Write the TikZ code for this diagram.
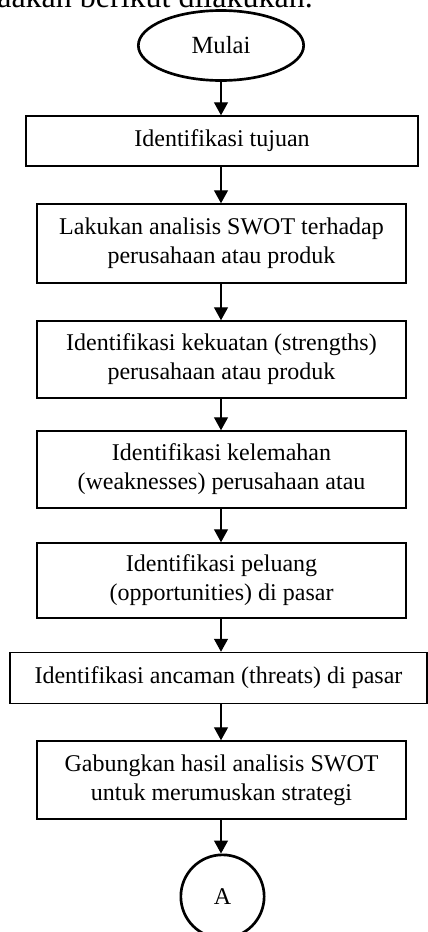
\documentclass[tikz,border=0pt]{standalone}
\usepackage{fontspec}
\setmainfont{Liberation Serif}
\usetikzlibrary{arrows.meta,shapes.geometric}
\begin{document}
\begin{tikzpicture}[x=0.75pt,y=-0.75pt,
  box/.style={draw,line width=1.1pt,align=center,font=\fontsize{18}{21.75}\selectfont,inner sep=0pt},
  term/.style={draw,ellipse,line width=2pt,font=\fontsize{18.5}{22}\selectfont,minimum width=124pt,minimum height=52.5pt,inner sep=0pt},
  conn/.style={draw,circle,line width=2pt,font=\fontsize{18}{22}\selectfont,minimum size=62.5pt,inner sep=0pt},
  flow/.style={line width=1pt,-{Triangle[width=10.5pt,length=9.75pt]}}]
\clip (0,0) rectangle (428,932);
\node[anchor=base east,font=\fontsize{24}{28}\selectfont,inner sep=0pt] (intro) at (313,7) {aakan berikut dilakukan.};
\node[term] (start) at (221,45.5) {Mulai};
\node[box,minimum width=294pt,minimum height=37.5pt] (b1) at (222,141) {Identifikasi tujuan};
\node[box,minimum width=276.75pt,minimum height=59.25pt] (b2) at (221.5,243.5) {Lakukan analisis SWOT terhadap\\perusahaan atau produk};
\node[box,minimum width=276.75pt,minimum height=57.75pt] (b3) at (221.5,359.5) {Identifikasi kekuatan (strengths)\\perusahaan atau produk};
\node[box,minimum width=276.75pt,minimum height=57.75pt] (b4) at (221.5,469.5) {Identifikasi kelemahan\\(weaknesses) perusahaan atau};
\node[box,minimum width=276.75pt,minimum height=56.25pt] (b5) at (221.5,580.5) {Identifikasi peluang\\(opportunities) di pasar};
\node[box,minimum width=312.75pt,minimum height=38.25pt] (b6) at (218.5,678) {Identifikasi ancaman (threats) di pasar};
\node[box,minimum width=276.75pt,minimum height=58.5pt] (b7) at (221.5,780) {Gabungkan hasil analisis SWOT\\untuk merumuskan strategi};
\node[conn] (endA) at (222.5,896.5) {A};
\draw[flow] (start.south) -- (start.south |- b1.north);
\draw[flow] (b1.south -| start.south) -- (start.south |- b2.north);
\draw[flow] (b2.south -| start.south) -- (start.south |- b3.north);
\draw[flow] (b3.south -| start.south) -- (start.south |- b4.north);
\draw[flow] (b4.south -| start.south) -- (start.south |- b5.north);
\draw[flow] (b5.south -| start.south) -- (start.south |- b6.north);
\draw[flow] (b6.south -| start.south) -- (start.south |- b7.north);
\draw[flow] (b7.south -| start.south) -- (start.south |- endA.north);
\end{tikzpicture}
\end{document}
